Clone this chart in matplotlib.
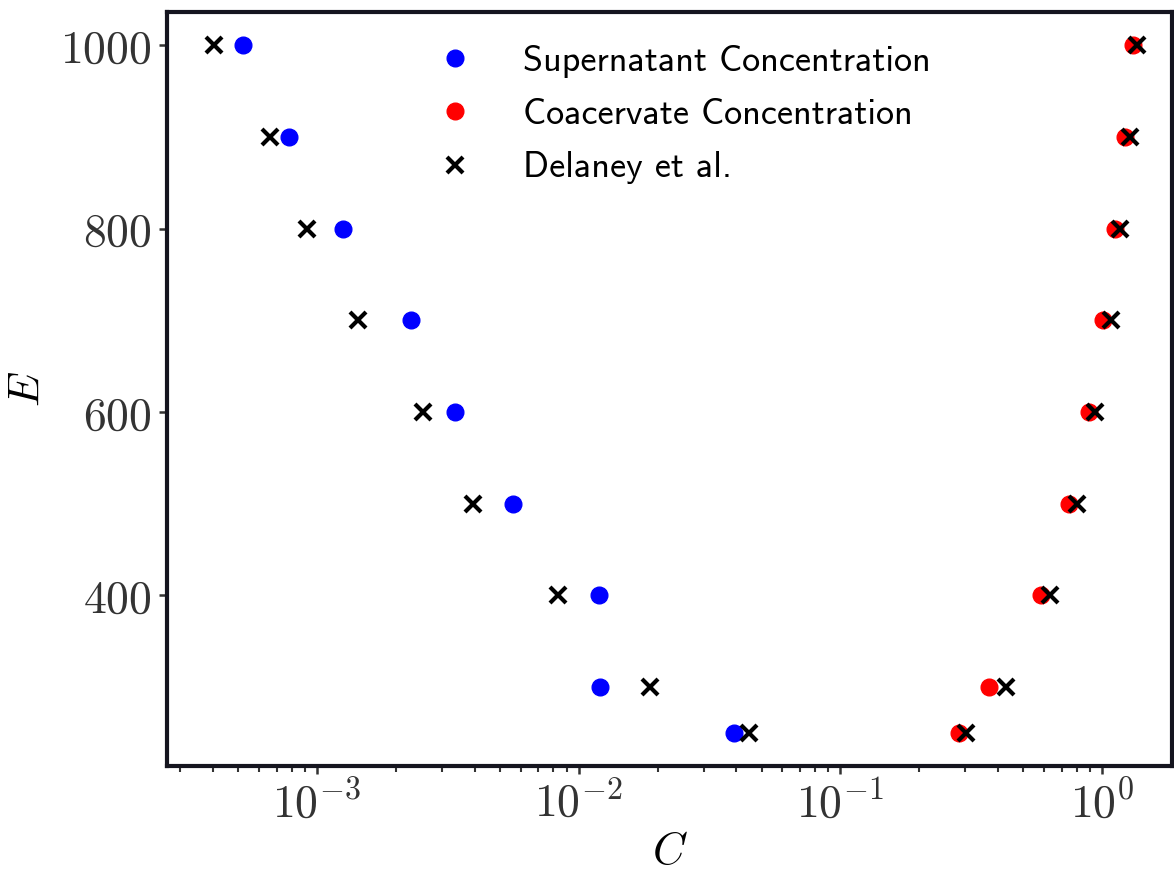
import math
import matplotlib
matplotlib.use("Agg")
import matplotlib.pyplot as plt
from matplotlib.ticker import FuncFormatter, FixedLocator, LogLocator, NullFormatter

plt.rcParams['mathtext.fontset'] = 'cm'

E = [1000, 900, 800, 700, 600, 500, 400, 300, 250]
supernatant = [5.20e-4, 7.80e-4, 1.26e-3, 2.29e-3, 3.38e-3, 5.63e-3, 1.19e-2, 1.21e-2, 3.91e-2]
coacervate = [1.31, 1.22, 1.12, 1.01, 0.892, 0.748, 0.582, 0.371, 0.284]
delaney_low = [4.04e-4, 6.58e-4, 9.19e-4, 1.43e-3, 2.54e-3, 3.96e-3, 8.34e-3, 1.87e-2, 4.46e-2]
delaney_high = [1.36, 1.28, 1.17, 1.08, 0.938, 0.803, 0.631, 0.428, 0.301]
yticks = [400, 600, 800, 1000]

fig = plt.figure(figsize=(11.74, 8.71), dpi=100)
ax = fig.add_axes([167/1174, 105/871, 1005/1174, 754/871])

ax.plot(supernatant, E, 'o', color='#0000ff', ms=12, ls='none', label='Supernatant Concentration')
ax.plot(coacervate, E, 'o', color='#ff0000', ms=12, ls='none', label='Coacervate Concentration')
ax.plot(delaney_low + delaney_high, E + E, 'x', color='black', ms=11, mew=3, ls='none', label='Delaney et al.')

ax.set_xscale('log')
ax.set_xlim(2.67e-4, 1.85)
ax.set_ylim(213.8, 1036.3)

ax.xaxis.set_major_locator(LogLocator(base=10, numticks=10))
ax.xaxis.set_minor_locator(LogLocator(base=10, subs=range(2, 10), numticks=50))
ax.xaxis.set_minor_formatter(NullFormatter())
ax.xaxis.set_major_formatter(FuncFormatter(lambda v, p: r'$10^{%d}$' % round(math.log10(v))))
ax.yaxis.set_major_locator(FixedLocator(yticks))
ax.yaxis.set_major_formatter(FuncFormatter(lambda v, p: r'$%d$' % v))

for s in ax.spines.values():
    s.set_linewidth(3)
    s.set_color('#15151f')

ax.tick_params(axis='both', which='major', labelsize=33, length=6, width=1.8,
               color='#333333', labelcolor='#333333', pad=5)
ax.tick_params(axis='x', which='minor', length=4, width=1.5, color='#333333')
ax.tick_params(axis='y', which='minor', left=False)

ax.set_xlabel(r'$C$', fontsize=32, labelpad=2)
ax.set_ylabel(r'$E$', fontsize=32, labelpad=8)

leg = ax.legend(loc='upper left', bbox_to_anchor=(0.2273, 1.0), frameon=False,
                prop={'family': ['cmss10', 'DejaVu Sans'], 'size': 26},
                handletextpad=1.13, labelspacing=0.565, markerscale=1.0, handlelength=1.5)

fig.savefig('out.png', dpi=100)
